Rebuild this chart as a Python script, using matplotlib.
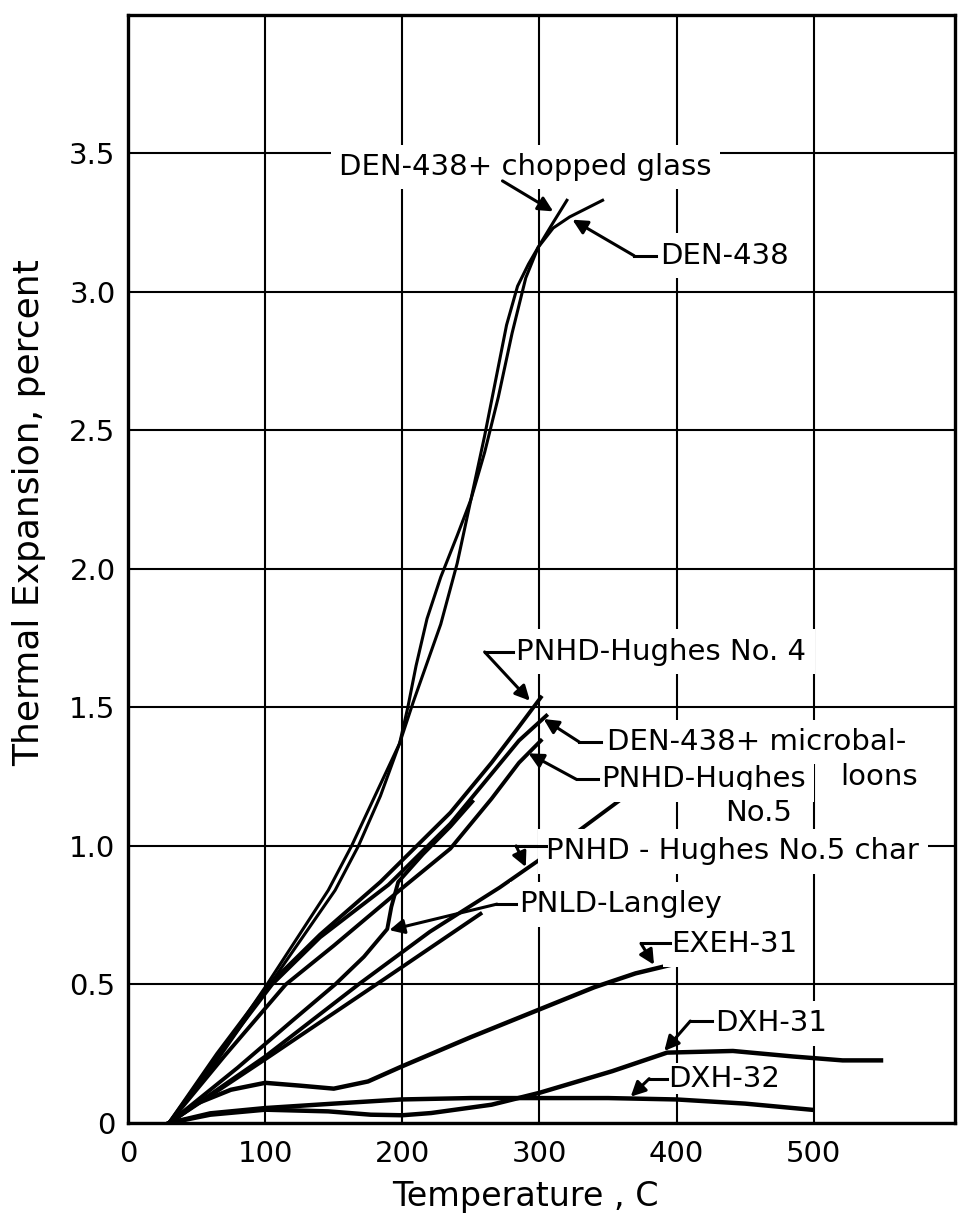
import matplotlib
matplotlib.use('Agg')
import matplotlib.pyplot as plt

# ---- data (temperature C, thermal expansion percent) ----
den_t = [30, 60, 100, 146, 163, 180, 198, 204, 210, 218, 228, 240, 250, 260, 270, 280, 290, 299, 310, 322, 334, 346]
den_v = [0, 0.20, 0.49, 0.84, 1.00, 1.18, 1.37, 1.50, 1.65, 1.82, 1.97, 2.12, 2.25, 2.42, 2.62, 2.85, 3.05, 3.16, 3.23, 3.27, 3.30, 3.33]

glass_t = [30, 60, 102, 151, 168, 184, 198, 208, 218, 228, 240, 250, 260, 268, 276, 284, 292, 299, 310, 320]
glass_v = [0, 0.19, 0.49, 0.84, 1.00, 1.18, 1.37, 1.52, 1.66, 1.80, 2.02, 2.25, 2.48, 2.68, 2.88, 3.02, 3.10, 3.16, 3.25, 3.33]

no4_t = [30, 65, 103, 140, 184, 235, 265, 285, 301]
no4_v = [0, 0.25, 0.50, 0.68, 0.87, 1.12, 1.30, 1.43, 1.536]

micro_t = [30, 65, 105, 140, 190, 235, 265, 285, 305]
micro_v = [0, 0.24, 0.50, 0.67, 0.86, 1.08, 1.26, 1.38, 1.47]

no5_t = [30, 70, 115, 150, 198, 235, 265, 285, 301]
no5_v = [0, 0.24, 0.50, 0.64, 0.84, 0.99, 1.17, 1.30, 1.38]

char_t = [30, 100, 168, 220, 271, 300, 330, 360]
char_v = [0, 0.24, 0.50, 0.69, 0.85, 0.95, 1.06, 1.17]

langley_t = [30, 80, 120, 151, 172, 189, 192, 197, 215, 235, 251]
langley_v = [0, 0.20, 0.37, 0.50, 0.60, 0.70, 0.78, 0.87, 0.97, 1.07, 1.16]

other_t = [30, 100, 187, 257]
other_v = [0, 0.23, 0.52, 0.755]

exeh_t = [30, 50, 75, 100, 125, 150, 175, 200, 250, 300, 340, 370, 401]
exeh_v = [0, 0.07, 0.12, 0.145, 0.135, 0.124, 0.15, 0.205, 0.31, 0.41, 0.49, 0.54, 0.577]

dxh31_t = [30, 60, 100, 146, 177, 200, 221, 265, 300, 353, 393, 441, 485, 521, 549]
dxh31_v = [0, 0.03, 0.048, 0.042, 0.03, 0.028, 0.036, 0.066, 0.109, 0.187, 0.254, 0.26, 0.24, 0.226, 0.226]

dxh32_t = [30, 60, 100, 150, 199, 250, 300, 350, 400, 450, 498]
dxh32_v = [0, 0.035, 0.054, 0.07, 0.085, 0.09, 0.09, 0.09, 0.085, 0.07, 0.048]

x_ticks = [0, 100, 200, 300, 400, 500]
y_ticks = [0, 0.5, 1.0, 1.5, 2.0, 2.5, 3.0, 3.5]
y_labels = ['0', '0.5', '1.0', '1.5', '2.0', '2.5', '3.0', '3.5']

fig = plt.figure(figsize=(9.59, 12.2), dpi=100)
ax = fig.add_axes([0.1335, 0.0795, 0.8624, 0.9085])

ax.set_xlim(0, 603)
ax.set_ylim(0, 4.0)
ax.set_xticks(x_ticks)
ax.set_yticks(y_ticks)
ax.set_yticklabels(y_labels)
ax.tick_params(length=0, labelsize=21, pad=12)
ax.tick_params(axis='y', pad=9)
ax.grid(True, color='black', lw=1.5)
ax.set_axisbelow(True)
for sp in ax.spines.values():
    sp.set_linewidth(2.4)

# curves
for t, v, lw in [(den_t, den_v, 2.2), (glass_t, glass_v, 2.2),
                 (no4_t, no4_v, 2.8), (micro_t, micro_v, 2.8),
                 (no5_t, no5_v, 2.8), (char_t, char_v, 2.8),
                 (langley_t, langley_v, 2.8), (other_t, other_v, 2.8),
                 (exeh_t, exeh_v, 3.2), (dxh31_t, dxh31_v, 3.2),
                 (dxh32_t, dxh32_v, 3.2)]:
    ax.plot(t, v, color='black', lw=lw, solid_joinstyle='round', zorder=3)


def label(x, y, s, pad=6):
    ax.text(x, y, s, fontsize=21, ha='left', va='center', zorder=5,
            bbox=dict(facecolor='white', edgecolor='none', pad=pad))


def leader(pts):
    xs = [p[0] for p in pts]
    ys = [p[1] for p in pts]
    ax.plot(xs[:-1], ys[:-1], color='black', lw=2.2, zorder=6)
    ax.annotate('', xy=pts[-1], xytext=pts[-2], zorder=6,
                arrowprops=dict(arrowstyle='-|>', color='black', lw=2.2,
                                mutation_scale=22, shrinkA=0, shrinkB=0))


label(154, 3.45, 'DEN-438+ chopped glass')
leader([(273, 3.40), (310, 3.29)])

label(388, 3.13, 'DEN-438')
leader([(385, 3.13), (369, 3.13), (324, 3.26)])

label(283, 1.70, 'PNHD-Hughes No. 4')
leader([(281, 1.70), (260, 1.70), (293, 1.524)])

label(349, 1.375, 'DEN-438+ microbal-')
label(519, 1.25, 'loons')
leader([(345, 1.375), (329, 1.375), (303, 1.458)])

label(345, 1.24, 'PNHD-Hughes')
label(435, 1.12, 'No.5')
leader([(343, 1.24), (327, 1.24), (292, 1.334)])

label(305, 0.98, 'PNHD - Hughes No.5 char')
leader([(305, 1.0), (283, 1.0), (290, 0.924)])

label(285, 0.79, 'PNLD-Langley')
leader([(283, 0.79), (269, 0.79), (190.5, 0.696)])

label(396, 0.645, 'EXEH-31')
leader([(395, 0.648), (374, 0.648), (383.5, 0.571)])

label(428, 0.36, 'DXH-31')
leader([(426, 0.368), (410, 0.368), (391, 0.26)])

label(394, 0.16, 'DXH-32', pad=1)
leader([(393, 0.16), (380, 0.16), (366.5, 0.095)])

fig.text(0.030, 0.58, 'Thermal Expansion, percent', rotation=90,
         fontsize=26, ha='center', va='center')
fig.text(0.548, 0.019, 'Temperature , C', fontsize=24,
         ha='center', va='center')

fig.savefig('out.png', dpi=100, facecolor='white')
